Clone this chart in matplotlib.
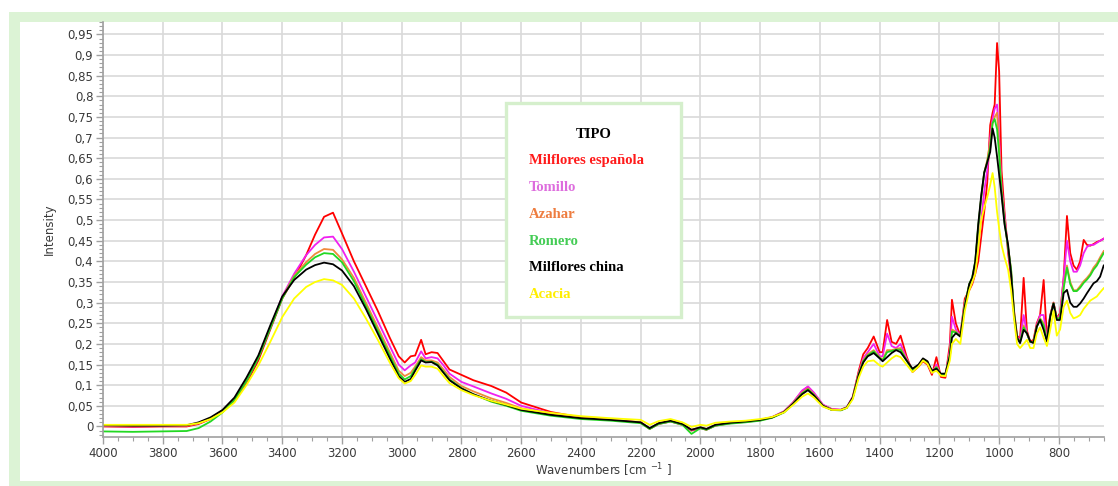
import matplotlib.pyplot as plt
from matplotlib.patches import Rectangle
from matplotlib.ticker import MultipleLocator, FuncFormatter

# ======================
# FTIR spectra of honey types (Intensity vs wavenumber)
# ======================

wavenumbers = [
    4000, 3900, 3800, 3720, 3680, 3640, 3600, 3560, 3520, 3480,
    3440, 3400, 3360, 3320, 3290, 3260, 3230, 3200, 3160, 3120,
    3080, 3040, 3010, 2990, 2970, 2955, 2935, 2920, 2900, 2880,
    2860, 2840, 2800, 2760, 2700, 2650, 2600, 2500, 2400, 2300,
    2200, 2170, 2140, 2100, 2060, 2030, 2000, 1980, 1950, 1900,
    1850, 1800, 1760, 1720, 1690, 1660, 1640, 1620, 1590, 1560,
    1530, 1510, 1490, 1470, 1455, 1440, 1420, 1400, 1390, 1375,
    1360, 1345, 1330, 1310, 1290, 1270, 1255, 1240, 1225, 1210,
    1195, 1180, 1165, 1158, 1145, 1130, 1115, 1100, 1090, 1080,
    1070, 1060, 1050, 1040, 1030, 1022, 1015, 1007, 1000, 992,
    982, 970, 960, 950, 940, 930, 918, 907, 896, 885,
    874, 863, 851, 840, 829, 818, 807, 796, 784, 773,
    762, 751, 740, 729, 717, 706, 695, 684, 673, 662,
    650,
]

milflores_espanola = [
    0.000, -0.001, 0.000, 0.000, 0.006, 0.018, 0.036, 0.062, 0.105, 0.160,
    0.235, 0.310, 0.360, 0.415, 0.465, 0.508, 0.518, 0.468, 0.400, 0.340,
    0.280, 0.215, 0.170, 0.155, 0.170, 0.172, 0.210, 0.175, 0.180, 0.178,
    0.158, 0.138, 0.125, 0.112, 0.098, 0.082, 0.058, 0.035, 0.022, 0.016,
    0.010, -0.006, 0.006, 0.012, 0.004, -0.010, -0.004, -0.008, 0.002, 0.008,
    0.011, 0.015, 0.022, 0.036, 0.058, 0.085, 0.096, 0.080, 0.052, 0.042,
    0.040, 0.046, 0.072, 0.135, 0.175, 0.190, 0.218, 0.180, 0.180, 0.258,
    0.205, 0.200, 0.220, 0.170, 0.132, 0.145, 0.158, 0.150, 0.125, 0.168,
    0.120, 0.118, 0.200, 0.307, 0.250, 0.220, 0.310, 0.330, 0.345, 0.370,
    0.400, 0.460, 0.520, 0.590, 0.730, 0.760, 0.780, 0.929, 0.860, 0.620,
    0.520, 0.420, 0.360, 0.280, 0.220, 0.212, 0.360, 0.232, 0.205, 0.210,
    0.250, 0.270, 0.355, 0.215, 0.270, 0.300, 0.262, 0.275, 0.360, 0.510,
    0.420, 0.390, 0.380, 0.400, 0.452, 0.440, 0.438, 0.442, 0.447, 0.450,
    0.455,
]

tomillo = [
    0.001, 0.000, 0.001, 0.002, 0.008, 0.020, 0.038, 0.066, 0.110, 0.168,
    0.240, 0.315, 0.370, 0.415, 0.440, 0.458, 0.460, 0.430, 0.375, 0.315,
    0.255, 0.195, 0.150, 0.136, 0.148, 0.155, 0.182, 0.165, 0.168, 0.165,
    0.148, 0.128, 0.108, 0.097, 0.080, 0.067, 0.050, 0.032, 0.021, 0.016,
    0.010, -0.005, 0.007, 0.013, 0.005, -0.009, -0.003, -0.007, 0.003, 0.008,
    0.012, 0.016, 0.023, 0.037, 0.058, 0.087, 0.097, 0.082, 0.053, 0.042,
    0.041, 0.047, 0.072, 0.130, 0.165, 0.180, 0.200, 0.170, 0.170, 0.225,
    0.195, 0.190, 0.200, 0.165, 0.135, 0.148, 0.162, 0.155, 0.130, 0.150,
    0.125, 0.123, 0.185, 0.266, 0.235, 0.220, 0.300, 0.335, 0.350, 0.380,
    0.430, 0.500, 0.570, 0.620, 0.700, 0.745, 0.770, 0.780, 0.700, 0.580,
    0.510, 0.430, 0.370, 0.270, 0.215, 0.210, 0.270, 0.225, 0.205, 0.205,
    0.245, 0.270, 0.270, 0.210, 0.268, 0.300, 0.262, 0.270, 0.360, 0.450,
    0.400, 0.375, 0.375, 0.390, 0.420, 0.435, 0.440, 0.440, 0.445, 0.450,
    0.455,
]

azahar = [
    0.002, 0.001, 0.002, 0.002, 0.008, 0.020, 0.038, 0.066, 0.112, 0.168,
    0.240, 0.312, 0.365, 0.398, 0.418, 0.430, 0.428, 0.405, 0.360, 0.300,
    0.240, 0.180, 0.135, 0.122, 0.130, 0.145, 0.168, 0.160, 0.160, 0.155,
    0.138, 0.120, 0.098, 0.085, 0.068, 0.057, 0.044, 0.030, 0.021, 0.016,
    0.010, -0.005, 0.008, 0.014, 0.006, -0.008, -0.002, -0.006, 0.004, 0.009,
    0.012, 0.016, 0.022, 0.036, 0.056, 0.082, 0.092, 0.078, 0.051, 0.041,
    0.040, 0.046, 0.070, 0.128, 0.160, 0.175, 0.185, 0.168, 0.162, 0.185,
    0.185, 0.188, 0.190, 0.162, 0.138, 0.148, 0.163, 0.156, 0.132, 0.145,
    0.126, 0.125, 0.178, 0.235, 0.230, 0.218, 0.295, 0.345, 0.360, 0.395,
    0.480, 0.555, 0.615, 0.645, 0.690, 0.735, 0.750, 0.760, 0.680, 0.575,
    0.500, 0.435, 0.380, 0.275, 0.215, 0.205, 0.245, 0.225, 0.205, 0.205,
    0.242, 0.262, 0.250, 0.208, 0.268, 0.300, 0.262, 0.265, 0.340, 0.390,
    0.350, 0.330, 0.330, 0.340, 0.352, 0.360, 0.370, 0.385, 0.395, 0.410,
    0.425,
]

romero = [
    -0.012, -0.013, -0.012, -0.011, -0.004, 0.012, 0.034, 0.064, 0.110, 0.166,
    0.238, 0.310, 0.362, 0.392, 0.410, 0.420, 0.418, 0.398, 0.352, 0.292,
    0.232, 0.172, 0.128, 0.114, 0.122, 0.140, 0.163, 0.156, 0.157, 0.150,
    0.132, 0.114, 0.093, 0.078, 0.060, 0.050, 0.038, 0.026, 0.018, 0.014,
    0.008, -0.006, 0.006, 0.012, 0.004, -0.018, -0.004, -0.008, 0.002, 0.007,
    0.010, 0.014, 0.021, 0.034, 0.055, 0.080, 0.090, 0.076, 0.050, 0.040,
    0.039, 0.045, 0.069, 0.126, 0.158, 0.172, 0.182, 0.166, 0.160, 0.180,
    0.183, 0.186, 0.186, 0.160, 0.137, 0.148, 0.163, 0.156, 0.132, 0.143,
    0.126, 0.125, 0.175, 0.230, 0.228, 0.218, 0.295, 0.345, 0.362, 0.400,
    0.485, 0.555, 0.615, 0.640, 0.675, 0.735, 0.745, 0.720, 0.660, 0.570,
    0.495, 0.432, 0.380, 0.275, 0.215, 0.204, 0.240, 0.225, 0.205, 0.204,
    0.242, 0.260, 0.245, 0.207, 0.266, 0.298, 0.260, 0.263, 0.335, 0.385,
    0.345, 0.328, 0.328, 0.336, 0.348, 0.356, 0.366, 0.380, 0.390, 0.405,
    0.420,
]

milflores_china = [
    0.003, 0.002, 0.002, 0.003, 0.010, 0.022, 0.040, 0.070, 0.118, 0.172,
    0.245, 0.315, 0.355, 0.380, 0.391, 0.397, 0.393, 0.378, 0.340, 0.285,
    0.225, 0.165, 0.122, 0.108, 0.115, 0.135, 0.160, 0.155, 0.156, 0.148,
    0.130, 0.112, 0.092, 0.078, 0.062, 0.052, 0.040, 0.028, 0.020, 0.016,
    0.010, -0.004, 0.008, 0.014, 0.006, -0.008, -0.002, -0.006, 0.004, 0.009,
    0.012, 0.016, 0.022, 0.035, 0.055, 0.078, 0.088, 0.075, 0.050, 0.040,
    0.040, 0.046, 0.070, 0.125, 0.155, 0.170, 0.178, 0.165, 0.158, 0.168,
    0.178, 0.185, 0.180, 0.160, 0.140, 0.150, 0.165, 0.158, 0.135, 0.140,
    0.128, 0.128, 0.170, 0.215, 0.226, 0.218, 0.290, 0.345, 0.360, 0.400,
    0.490, 0.560, 0.615, 0.640, 0.665, 0.722, 0.700, 0.654, 0.610, 0.560,
    0.490, 0.440, 0.370, 0.270, 0.215, 0.202, 0.234, 0.226, 0.206, 0.202,
    0.242, 0.258, 0.234, 0.206, 0.266, 0.298, 0.258, 0.258, 0.323, 0.331,
    0.300, 0.290, 0.290, 0.298, 0.310, 0.323, 0.335, 0.347, 0.352, 0.363,
    0.390,
]

acacia = [
    0.004, 0.004, 0.004, 0.004, 0.008, 0.018, 0.034, 0.058, 0.100, 0.148,
    0.205, 0.265, 0.310, 0.338, 0.350, 0.357, 0.354, 0.343, 0.310, 0.262,
    0.210, 0.155, 0.117, 0.104, 0.110, 0.125, 0.148, 0.145, 0.145, 0.140,
    0.122, 0.105, 0.088, 0.076, 0.062, 0.053, 0.043, 0.033, 0.025, 0.020,
    0.016, 0.004, 0.013, 0.018, 0.010, -0.001, 0.004, 0.002, 0.009, 0.012,
    0.014, 0.018, 0.023, 0.034, 0.052, 0.072, 0.080, 0.070, 0.048, 0.040,
    0.040, 0.045, 0.066, 0.118, 0.145, 0.158, 0.160, 0.148, 0.145, 0.155,
    0.165, 0.172, 0.168, 0.150, 0.132, 0.145, 0.160, 0.152, 0.130, 0.135,
    0.123, 0.122, 0.160, 0.200, 0.212, 0.200, 0.280, 0.330, 0.350, 0.370,
    0.430, 0.500, 0.530, 0.555, 0.585, 0.614, 0.580, 0.520, 0.480, 0.440,
    0.410, 0.380, 0.330, 0.260, 0.200, 0.190, 0.200, 0.210, 0.190, 0.190,
    0.225, 0.240, 0.215, 0.195, 0.235, 0.280, 0.220, 0.235, 0.290, 0.305,
    0.275, 0.262, 0.265, 0.270, 0.285, 0.295, 0.305, 0.310, 0.315, 0.325,
    0.335,
]

tipos = ["Milflores española", "Tomillo", "Azahar", "Romero", "Milflores china", "Acacia"]
valores = [milflores_espanola, tomillo, azahar, romero, milflores_china, acacia]
cores_linha = ["#ff0000", "#f020f0", "#f08a3c", "#22d822", "#000000", "#ffff00"]
cores_texto = ["#ff1a1a", "#dd6ddd", "#ee7d40", "#44cc55", "#000000", "#ffee00"]

W, H = 1118, 486
fig = plt.figure(figsize=(W / 100, H / 100), dpi=100)

# moldura verde
fig.patches.append(Rectangle((9 / W, 0), 1, (H - 12) / H, transform=fig.transFigure,
                             facecolor="#dcf3d5", edgecolor="none", zorder=-3))
fig.patches.append(Rectangle((20 / W, 5 / H), 1, (481 - 22) / H, transform=fig.transFigure,
                             facecolor="white", edgecolor="none", zorder=-2))

ax = fig.add_axes([103 / W, (H - 437) / H, (1104 - 103) / W, (437 - 22) / H])
ax.set_facecolor("none")

for nome, y, cor in zip(tipos, valores, cores_linha):
    ax.plot(wavenumbers, y, color=cor, linewidth=1.3, label=nome)

ax.set_xlim(4000, 649)
ax.set_ylim(-0.0255, 0.98)

ax.xaxis.set_major_locator(MultipleLocator(200))
ax.xaxis.set_minor_locator(MultipleLocator(50))
ax.yaxis.set_major_locator(MultipleLocator(0.05))
ax.yaxis.set_minor_locator(MultipleLocator(0.01))
ax.yaxis.set_major_formatter(FuncFormatter(lambda v, p: ("%g" % round(v, 2)).replace(".", ",")))
ax.xaxis.set_major_formatter(FuncFormatter(lambda v, p: "%d" % v))

ax.grid(True, which="major", color="#d9d9d9", linewidth=1.2)
ax.set_axisbelow(True)
for lado in ["top", "right"]:
    ax.spines[lado].set_visible(False)
for lado in ["left", "bottom"]:
    ax.spines[lado].set_color("#a0a0a0")
    ax.spines[lado].set_linewidth(1.2)

ax.tick_params(which="major", length=5, width=1, color="#a0a0a0", labelsize=8.5,
               labelcolor="#3a3a3a", pad=2)
ax.tick_params(which="minor", length=3, width=0.8, color="#a0a0a0")

ax.set_xlabel("Wavenumbers [cm $^{-1}$ ]", fontsize=8.5, color="#3a3a3a", labelpad=1)
ax.set_ylabel("Intensity", fontsize=8.5, color="#3a3a3a", labelpad=8)

# legenda (caixa com texto colorido)
fig.patches.append(Rectangle((506 / W, (H - 317) / H), 175 / W, 214 / H, transform=fig.transFigure,
                             facecolor="white", edgecolor="#d5efcc", linewidth=2.4, zorder=5))
fig.text(594 / W, (H - 134) / H, "TIPO", ha="center", va="center", fontsize=10.5,
         family="Liberation Serif", weight="bold", color="black", zorder=6)
for i, (nome, cor) in enumerate(zip(tipos, cores_texto)):
    fig.text(529 / W, (H - 160.7 - i * 26.8) / H, nome, ha="left", va="center", fontsize=10.5,
             family="Liberation Serif", weight="bold", color=cor, zorder=6)

plt.savefig("out.png", dpi=100)
